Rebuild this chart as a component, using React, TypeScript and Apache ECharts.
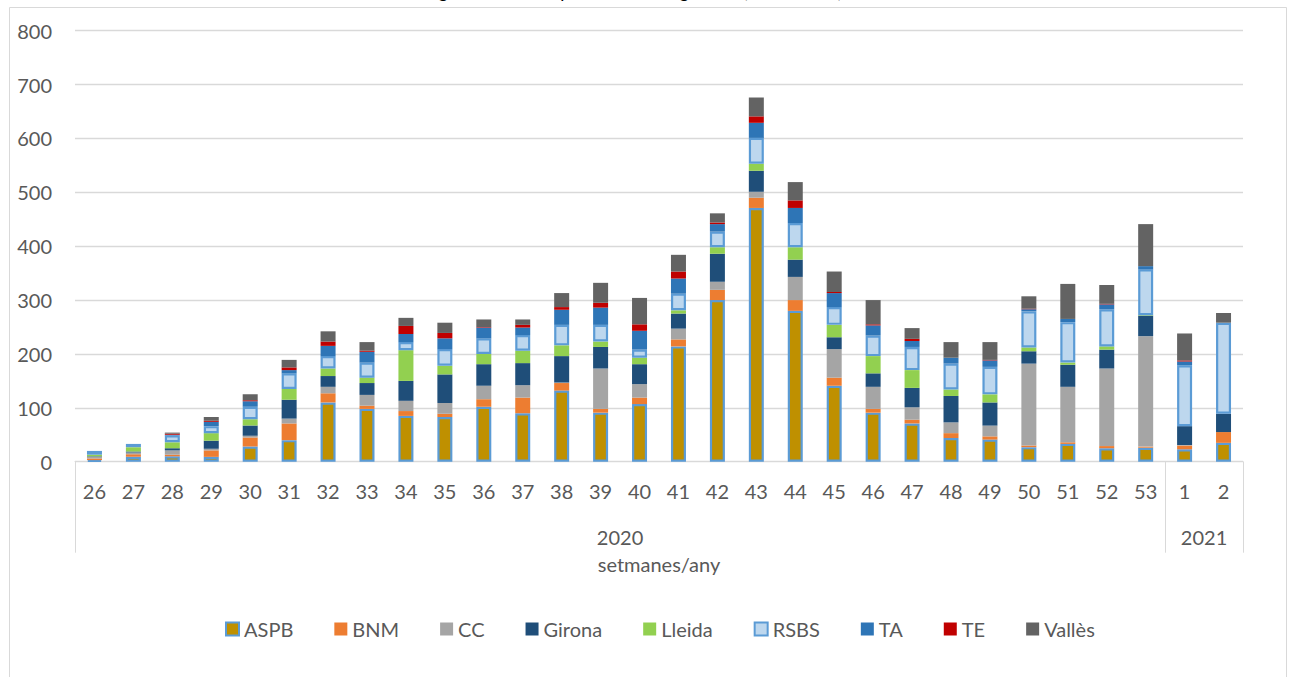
import React, { useEffect, useRef } from "react";
import * as echarts from "echarts";

const weeks = ["26","27","28","29","30","31","32","33","34","35","36","37","38","39","40","41","42","43","44","45","46","47","48","49","50","51","52","53","1","2"];
const years = ["2020", "2021"];
const yearSpans = [28, 2];
const yTicks = [0, 100, 200, 300, 400, 500, 600, 700, 800];

const ASPB   = [3, 9, 10, 9, 28, 40, 110, 98, 85, 83, 102, 90, 132, 91, 107, 214, 300, 471, 280, 141, 91, 71, 44, 41, 27, 33, 25, 26, 23, 35];
const BNM    = [3, 5, 3, 12, 17, 31, 17, 6, 9, 6, 14, 29, 14, 7, 12, 13, 19, 19, 20, 15, 7, 7, 9, 6, 3, 3, 4, 2, 7, 20];
const CC     = [3, 3, 8, 3, 3, 9, 12, 20, 19, 20, 25, 23, 1, 75, 25, 20, 15, 11, 43, 53, 41, 23, 20, 20, 152, 103, 144, 205, 1, 0];
const Girona = [1, 2, 4, 15, 19, 35, 20, 22, 37, 53, 40, 41, 49, 40, 37, 28, 52, 39, 32, 22, 25, 36, 49, 43, 23, 41, 35, 38, 35, 34];
const Lleida = [3, 8, 11, 14, 12, 20, 14, 10, 57, 16, 19, 23, 20, 10, 12, 6, 12, 13, 23, 23, 32, 33, 12, 15, 7, 4, 6, 1, 0, 0];
const RSBS   = [7, 6, 13, 13, 23, 29, 23, 28, 15, 31, 29, 29, 38, 31, 15, 31, 29, 48, 45, 33, 38, 43, 48, 51, 67, 75, 69, 85, 113, 169];
const TA     = [0, 0, 1, 8, 10, 6, 19, 20, 15, 20, 20, 14, 28, 32, 35, 28, 14, 28, 28, 26, 19, 11, 11, 12, 4, 6, 9, 6, 7, 0];
const TE     = [0, 0, 2, 2, 2, 5, 8, 2, 15, 10, 1, 5, 5, 9, 12, 13, 3, 12, 14, 2, 2, 4, 0, 1, 1, 0, 1, 0, 2, 0];
const Valles = [0, 0, 2, 7, 11, 14, 19, 16, 15, 19, 14, 10, 26, 37, 49, 31, 17, 35, 34, 38, 45, 20, 29, 33, 23, 65, 35, 78, 50, 18];

const seriesNames = ["ASPB", "BNM", "CC", "Girona", "Lleida", "RSBS", "TA", "TE", "Vallès"];
const seriesData = [ASPB, BNM, CC, Girona, Lleida, RSBS, TA, TE, Valles];
const seriesColors = ["#BF9000", "#ED7D31", "#A5A5A5", "#1F4E79", "#92D050", "#BDD7EE", "#2E75B6", "#C00000", "#636363"];
const outlined = ["ASPB", "RSBS"];

const FONT = "Lato";
const TXT = "#595959";

export default function App() {
  const ref = useRef<HTMLDivElement>(null);
  useEffect(() => {
    if (!ref.current) return;
    const chart = echarts.init(ref.current, null, { renderer: "svg" });

    const boundaries: number[] = [0];
    const centers: number[] = [];
    let acc = 0;
    yearSpans.forEach((s) => {
      centers.push(acc + s / 2);
      acc += s;
      boundaries.push(acc);
    });

    const series = seriesNames.map((name, i) => ({
      name,
      type: "bar",
      stack: "total",
      xAxisIndex: 0,
      barWidth: 15,
      data: seriesData[i].map((v) => (v === 0 ? "-" : v)),
      itemStyle: outlined.includes(name)
        ? { color: seriesColors[i], borderColor: "#5B9BD5", borderWidth: 2.2 }
        : { color: seriesColors[i] },
    }));

    chart.setOption({
      animation: false,
      backgroundColor: "#ffffff",
      textStyle: { fontFamily: FONT },
      grid: { left: 75, right: 49, top: 30.7, bottom: 215.3, containLabel: false },
      legend: {
        data: seriesNames,
        left: 225,
        top: 619,
        padding: 0,
        itemWidth: 13,
        itemHeight: 13,
        itemGap: 41,
        icon: "rect",
        textStyle: { fontSize: 20, color: TXT, fontFamily: FONT },
      },
      xAxis: [
        {
          type: "category",
          data: weeks,
          axisLine: { show: true, lineStyle: { color: "#D9D9D9", width: 1 } },
          axisTick: { show: false },
          axisLabel: { interval: 0, margin: 19, fontSize: 20, color: TXT, fontFamily: FONT },
          splitLine: { show: false },
        },
        {
          type: "value",
          position: "bottom",
          min: 0,
          max: boundaries[boundaries.length - 1],
          axisLine: { show: false },
          splitLine: { show: false },
          axisTick: {
            show: true,
            customValues: boundaries,
            length: 91,
            lineStyle: { color: "#D9D9D9", width: 1 },
          },
          axisLabel: {
            show: true,
            customValues: centers,
            margin: 65,
            fontSize: 20,
            color: TXT,
            fontFamily: FONT,
            formatter: (v: number) => {
              const k = centers.indexOf(v);
              return k >= 0 ? years[k] : "";
            },
          },
          name: "setmanes/any",
          nameLocation: "middle",
          nameGap: 92,
          nameTextStyle: { fontSize: 20, color: TXT, fontFamily: FONT },
        },
      ],
      yAxis: {
        type: "value",
        min: yTicks[0],
        max: yTicks[yTicks.length - 1],
        interval: 100,
        axisLine: { show: false },
        axisTick: { show: false },
        axisLabel: { margin: 23, fontSize: 20, color: TXT, fontFamily: FONT },
        splitLine: { show: true, lineStyle: { color: "#D9D9D9", width: 1.3 } },
      },
      graphic: [
        {
          type: "rect",
          shape: { x: 9.5, y: 7.5, width: 1277, height: 700 },
          style: { fill: "none", stroke: "#D9D9D9", lineWidth: 1 },
          silent: true,
          z: -10,
        },
        {
          type: "text",
          x: 283,
          y: -9,
          style: {
            text: "Nombre de brots segons setmana i per servei de vigilància (2020-2021)",
            font: "normal 18px Lato",
            fill: "#000000",
            align: "left",
            verticalAlign: "middle",
          },
          silent: true,
        },
      ],
      series,
    });
    return () => chart.dispose();
  }, []);
  return (
    <div
      ref={ref}
      style={{ position: "absolute", left: 0, top: 0, width: 1292, height: 677, background: "#fff" }}
    />
  );
}
